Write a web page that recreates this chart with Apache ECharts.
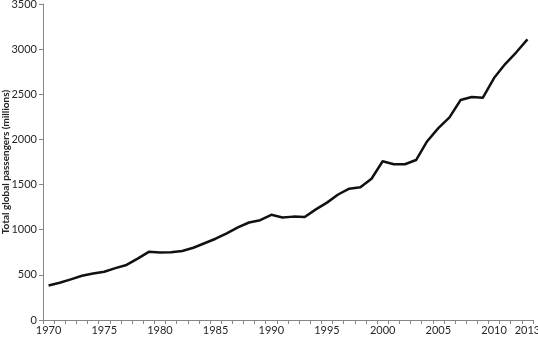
<!DOCTYPE html>
<html><head><meta charset="utf-8">
<script src="https://cdn.jsdelivr.net/npm/echarts@6/dist/echarts.min.js"></script>
<style>html,body{margin:0;padding:0;background:#fff}#c{width:538px;height:337px}</style>
</head><body><div id="c"></div>
<script>
const years = ['1970','1971','1972','1973','1974','1975','1976','1977','1978','1979',
'1980','1981','1982','1983','1984','1985','1986','1987','1988','1989',
'1990','1991','1992','1993','1994','1995','1996','1997','1998','1999',
'2000','2001','2002','2003','2004','2005','2006','2007','2008','2009',
'2010','2011','2012','2013'];
const passengers = [383,412,450,490,515,535,575,610,680,755,
748,750,765,800,850,900,960,1025,1080,1105,
1165,1135,1145,1140,1225,1300,1390,1455,1470,1565,
1758,1725,1725,1772,1980,2125,2245,2437,2470,2462,
2680,2835,2965,3108];
const yTicks = {min:0, max:3500, interval:500};
const shownLabels = ['1970','1975','1980','1985','1990','1995','2000','2005','2010','2013'];
const font = 'Lato, "Open Sans", sans-serif';
const chart = echarts.init(document.getElementById('c'), null, {renderer:'canvas'});
chart.setOption({
  animation:false,
  grid:{left:43, right:5, top:4, bottom:17, containLabel:false, outerBoundsMode:'none'},
  xAxis:{
    type:'category', data:years, boundaryGap:true,
    axisLine:{lineStyle:{color:'#868686', width:1}},
    axisTick:{show:true, interval:0, length:4, lineStyle:{color:'#868686'}},
    axisLabel:{interval:(i,v)=>shownLabels.includes(v), color:'#262626', fontFamily:font, fontSize:11, margin:5, hideOverlap:false}
  },
  yAxis:{
    type:'value', min:yTicks.min, max:yTicks.max, interval:yTicks.interval,
    name:'Total global passengers (millions)', nameLocation:'middle', nameGap:32, nameMoveOverlap:false,
    nameTextStyle:{color:'#262626', fontFamily:font, fontSize:10, fontWeight:'bold'},
    splitLine:{show:false},
    axisLine:{show:true, lineStyle:{color:'#868686', width:1}},
    axisTick:{show:true, length:4, lineStyle:{color:'#868686'}},
    axisLabel:{color:'#262626', fontFamily:font, fontSize:11, margin:6, formatter:v=>String(v)}
  },
  series:[{type:'line', data:passengers, symbol:'none', smooth:false,
    lineStyle:{color:'#111', width:2.5, join:'round'}}]
});
</script></body></html>
